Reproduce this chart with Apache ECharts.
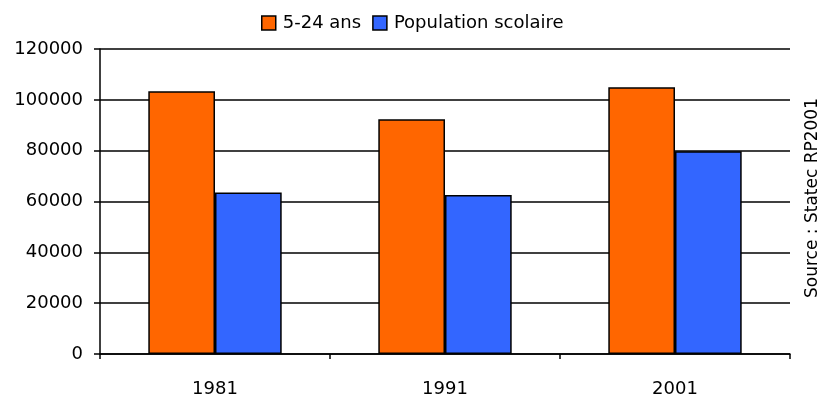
<!DOCTYPE html>
<html>
<head>
<meta charset="utf-8">
<script src="https://cdn.jsdelivr.net/npm/echarts@6/dist/echarts.min.js"></script>
<style>
  html, body { margin: 0; padding: 0; background: #fff; }
  #chart { width: 830px; height: 398px; }
</style>
</head>
<body>
<div id="chart"></div>
<script>
// Census years and the two population counts
const years = ['1981', '1991', '2001'];
const age5to24 = [103400, 92400, 105000];
const schoolPop = [63500, 62600, 79800];
const seriesNames = ['5-24 ans', 'Population scolaire'];
const sourceNote = 'Source : Statec RP2001';

const FONT = 'DejaVu Sans';

const chart = echarts.init(document.getElementById('chart'), null, { renderer: 'canvas' });

chart.setOption({
  animation: false,
  backgroundColor: '#ffffff',
  legend: {
    top: 14,
    left: 261,
    padding: 0,
    itemWidth: 14,
    itemHeight: 14,
    itemGap: 11,
    icon: 'rect',
    itemStyle: { borderColor: '#000', borderWidth: 1.5 },
    textStyle: { fontFamily: FONT, fontSize: 18, color: '#000', padding: [0, 0, 0, 2] },
    data: seriesNames
  },
  grid: { left: 100, right: 40, top: 49, bottom: 43 },
  xAxis: {
    type: 'category',
    data: years,
    axisLine: { lineStyle: { color: '#000', width: 1.5 } },
    axisTick: { show: true, length: 5, lineStyle: { color: '#000', width: 1.5 } },
    axisLabel: { fontFamily: FONT, fontSize: 18, color: '#000', margin: 26 }
  },
  yAxis: {
    type: 'value',
    min: 0,
    max: 120000,
    interval: 20000,
    axisLine: { show: true, lineStyle: { color: '#000', width: 1.5 } },
    axisTick: { show: true, length: 6, lineStyle: { color: '#000', width: 1.5 } },
    axisLabel: {
      fontFamily: FONT, fontSize: 18, color: '#000', margin: 17,
      formatter: v => String(v)
    },
    splitLine: { show: true, lineStyle: { color: '#000', width: 1.5 } }
  },
  series: [
    {
      name: seriesNames[0],
      type: 'bar',
      data: age5to24,
      barGap: '0%',
      barCategoryGap: '42%',
      itemStyle: { color: '#ff6600', borderColor: '#000', borderWidth: 1.5 }
    },
    {
      name: seriesNames[1],
      type: 'bar',
      data: schoolPop,
      itemStyle: { color: '#3366ff', borderColor: '#000', borderWidth: 1.5 }
    }
  ],
  graphic: [
    {
      type: 'text',
      x: 813,
      y: 198,
      rotation: Math.PI / 2,
      style: {
        text: sourceNote,
        fontFamily: FONT,
        fontSize: 17,
        fill: '#000',
        textAlign: 'center',
        textVerticalAlign: 'middle'
      }
    }
  ]
});
</script>
</body>
</html>
